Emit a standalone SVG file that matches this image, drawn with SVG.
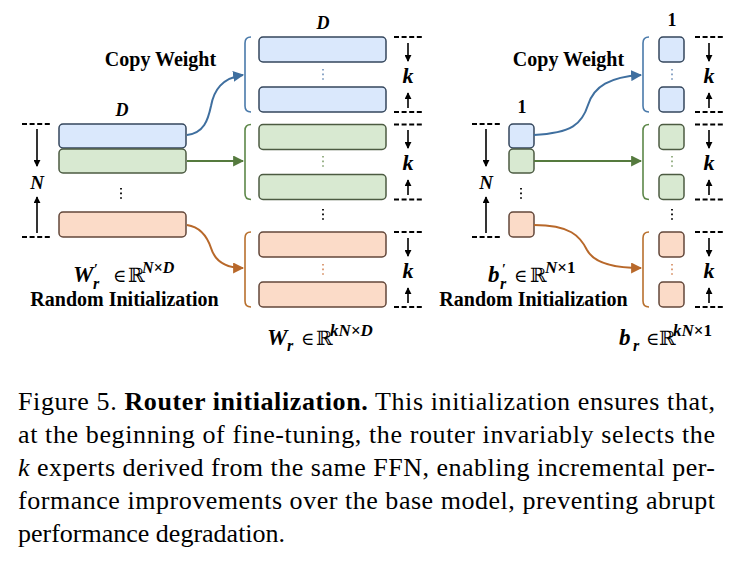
<svg xmlns="http://www.w3.org/2000/svg" width="744" height="563" viewBox="0 0 744 563">
<defs>
<style>
.bl{fill:#dae8fc;stroke:#34465c;stroke-width:1.5}
.gr{fill:#d8e9d1;stroke:#4c5b42;stroke-width:1.5}
.or{fill:#fbdbc8;stroke:#63473a;stroke-width:1.5}
.dash{stroke:#000;stroke-width:1.8;stroke-dasharray:5 2.6;fill:none}
.ar{stroke:#000;stroke-width:1.6;fill:none;marker-end:url(#ab)}
.dots{stroke-width:1.8;stroke-dasharray:1.6 3;fill:none}
.t{font-family:"Liberation Serif","DejaVu Serif",serif;fill:#000}
.b{font-weight:bold}
.bi{font-weight:bold;font-style:italic}
.cap{font-family:"Liberation Serif","DejaVu Serif",serif;font-size:26px;fill:#000}
</style>
<marker id="ab" viewBox="0 0 8 8" refX="7" refY="4" markerWidth="7" markerHeight="7" markerUnits="userSpaceOnUse" orient="auto"><path d="M0,0 L8,4 L0,8 z" fill="#000"/></marker>
<marker id="mb" viewBox="0 0 10 10" refX="9" refY="5" markerWidth="11" markerHeight="11" markerUnits="userSpaceOnUse" orient="auto"><path d="M0,0 L10,5 L0,10 z" fill="#3f6f9f"/></marker>
<marker id="mg" viewBox="0 0 10 10" refX="9" refY="5" markerWidth="11" markerHeight="11" markerUnits="userSpaceOnUse" orient="auto"><path d="M0,0 L10,5 L0,10 z" fill="#557a3e"/></marker>
<marker id="mo" viewBox="0 0 10 10" refX="9" refY="5" markerWidth="11" markerHeight="11" markerUnits="userSpaceOnUse" orient="auto"><path d="M0,0 L10,5 L0,10 z" fill="#b8682a"/></marker>
</defs>
<rect width="744" height="563" fill="#fff"/>

<!-- Left W' input -->
<g id="w-input">
<rect class="bl" x="59" y="124" width="127" height="24" rx="4"/>
<rect class="gr" x="59" y="149" width="127" height="24" rx="4"/>
<rect class="or" x="59" y="212" width="127" height="25" rx="4"/>
<line class="dots" x1="121" y1="188" x2="121" y2="199" stroke="#000"/>
<text class="t bi" x="122" y="116" font-size="18" text-anchor="middle">D</text>
<line class="dash" x1="22" y1="124" x2="51" y2="124"/>
<line class="dash" x1="22" y1="237" x2="51" y2="237"/>
<line class="ar" x1="37" y1="129" x2="37" y2="166"/>
<line class="ar" x1="37" y1="233" x2="37" y2="197"/>
<text class="t bi" x="37" y="189" font-size="19" text-anchor="middle">N</text>
</g>

<g id="w-input-label">
<text class="t" font-size="20"><tspan class="bi" x="73" y="282" font-size="23">W</tspan><tspan x="94" y="274" font-size="14" class="b">′</tspan><tspan class="bi" x="93" y="289" font-size="16">r</tspan><tspan x="113" y="282" font-size="18">∈</tspan><tspan x="128" y="282" font-family="DejaVu Serif">ℝ</tspan><tspan class="bi" x="142" y="273" font-size="16">N×D</tspan></text>
<text class="t b" x="124.5" y="306" font-size="20" text-anchor="middle">Random Initialization</text>
</g>

<text class="t b" x="160.5" y="66" font-size="20" text-anchor="middle">Copy Weight</text>

<!-- Right W groups -->
<g id="w-blue">
<path d="M251,37 Q245,37 245,43 V106 Q245,112 251,112" fill="none" stroke="#4a7aaa" stroke-width="1.6"/>
<rect class="bl" x="259" y="37" width="127" height="25" rx="4"/>
<rect class="bl" x="259" y="87" width="127" height="25" rx="4"/>
<line class="dots" x1="323" y1="69" x2="323" y2="81" stroke="#7f9cc0"/>
<text class="t bi" x="323" y="29" font-size="18" text-anchor="middle">D</text>
</g>
<g id="w-green">
<path d="M251,124.5 Q245,124.5 245,130.5 V193.5 Q245,199.5 251,199.5" fill="none" stroke="#5d8749" stroke-width="1.6"/>
<rect class="gr" x="259" y="124.5" width="127" height="25" rx="4"/>
<rect class="gr" x="259" y="174.5" width="127" height="25" rx="4"/>
<line class="dots" x1="323" y1="156" x2="323" y2="168" stroke="#8eaa7c"/>
</g>
<line class="dots" x1="323" y1="209" x2="323" y2="221" stroke="#000"/>
<g id="w-orange">
<path d="M251,232 Q245,232 245,238 V301 Q245,307 251,307" fill="none" stroke="#b8702e" stroke-width="1.6"/>
<rect class="or" x="259" y="232" width="127" height="25" rx="4"/>
<rect class="or" x="259" y="282" width="127" height="25" rx="4"/>
<line class="dots" x1="323" y1="264" x2="323" y2="276" stroke="#d9946c"/>
</g>

<g id="w-k">
<line class="dash" x1="394" y1="37" x2="422" y2="37"/>
<line class="dash" x1="394" y1="112" x2="422" y2="112"/>
<line class="ar" x1="408" y1="43" x2="408" y2="61"/>
<line class="ar" x1="408" y1="108" x2="408" y2="93"/>
<text class="t bi" x="408" y="83" font-size="22" text-anchor="middle">k</text>
<line class="dash" x1="394" y1="124.5" x2="422" y2="124.5"/>
<line class="dash" x1="394" y1="199.5" x2="422" y2="199.5"/>
<line class="ar" x1="408" y1="130" x2="408" y2="148"/>
<line class="ar" x1="408" y1="195" x2="408" y2="180"/>
<text class="t bi" x="408" y="170" font-size="22" text-anchor="middle">k</text>
<line class="dash" x1="394" y1="232" x2="422" y2="232"/>
<line class="dash" x1="394" y1="307" x2="422" y2="307"/>
<line class="ar" x1="408" y1="238" x2="408" y2="256"/>
<line class="ar" x1="408" y1="303" x2="408" y2="288"/>
<text class="t bi" x="408" y="278" font-size="22" text-anchor="middle">k</text>
</g>

<g id="w-output-label">
<text class="t" font-size="20"><tspan class="bi" x="267" y="345" font-size="23">W</tspan><tspan class="bi" x="287" y="351" font-size="16">r</tspan><tspan x="301" y="345" font-size="18">∈</tspan><tspan x="316" y="345" font-family="DejaVu Serif">ℝ</tspan><tspan class="bi" x="330" y="336" font-size="17">kN×D</tspan></text>
</g>

<!-- Left b' input -->
<g id="b-input">
<rect class="bl" x="509" y="124" width="25" height="24" rx="4"/>
<rect class="gr" x="509" y="149" width="25" height="24" rx="4"/>
<rect class="or" x="509" y="212" width="25" height="25" rx="4"/>
<line class="dots" x1="521" y1="188" x2="521" y2="199" stroke="#000"/>
<text class="t b" x="522" y="113" font-size="18" text-anchor="middle">1</text>
<line class="dash" x1="472" y1="124" x2="500" y2="124"/>
<line class="dash" x1="472" y1="237" x2="500" y2="237"/>
<line class="ar" x1="486" y1="129" x2="486" y2="166"/>
<line class="ar" x1="486" y1="233" x2="486" y2="197"/>
<text class="t bi" x="486" y="189" font-size="19" text-anchor="middle">N</text>
</g>

<g id="b-input-label">
<text class="t" font-size="20"><tspan class="bi" x="488" y="282" font-size="23">b</tspan><tspan x="502" y="274" font-size="14" class="b">′</tspan><tspan class="bi" x="500" y="289" font-size="16">r</tspan><tspan x="514" y="282" font-size="18">∈</tspan><tspan x="530" y="282" font-family="DejaVu Serif">ℝ</tspan><tspan class="b" x="545" y="273" font-size="17"><tspan font-style="italic">N</tspan>×1</tspan></text>
<text class="t b" x="533.5" y="306" font-size="20" text-anchor="middle">Random Initialization</text>
</g>

<text class="t b" x="568.5" y="66" font-size="20" text-anchor="middle">Copy Weight</text>

<!-- Right b groups -->
<g id="b-blue">
<path d="M649,37 Q643,37 643,43 V106 Q643,112 649,112" fill="none" stroke="#4a7aaa" stroke-width="1.6"/>
<rect class="bl" x="659" y="37" width="25" height="25" rx="4"/>
<rect class="bl" x="659" y="87" width="25" height="25" rx="4"/>
<line class="dots" x1="672" y1="69" x2="672" y2="81" stroke="#7f9cc0"/>
<text class="t b" x="672" y="26" font-size="18" text-anchor="middle">1</text>
</g>
<g id="b-green">
<path d="M649,124.5 Q643,124.5 643,130.5 V193.5 Q643,199.5 649,199.5" fill="none" stroke="#5d8749" stroke-width="1.6"/>
<rect class="gr" x="659" y="124.5" width="25" height="25" rx="4"/>
<rect class="gr" x="659" y="174.5" width="25" height="25" rx="4"/>
<line class="dots" x1="672" y1="156" x2="672" y2="168" stroke="#8eaa7c"/>
</g>
<line class="dots" x1="672" y1="209" x2="672" y2="221" stroke="#000"/>
<g id="b-orange">
<path d="M649,232 Q643,232 643,238 V301 Q643,307 649,307" fill="none" stroke="#b8702e" stroke-width="1.6"/>
<rect class="or" x="659" y="232" width="25" height="25" rx="4"/>
<rect class="or" x="659" y="282" width="25" height="25" rx="4"/>
<line class="dots" x1="672" y1="264" x2="672" y2="276" stroke="#d9946c"/>
</g>

<g id="b-k">
<line class="dash" x1="695" y1="37" x2="723" y2="37"/>
<line class="dash" x1="695" y1="112" x2="723" y2="112"/>
<line class="ar" x1="709" y1="43" x2="709" y2="61"/>
<line class="ar" x1="709" y1="108" x2="709" y2="93"/>
<text class="t bi" x="709" y="83" font-size="22" text-anchor="middle">k</text>
<line class="dash" x1="695" y1="124.5" x2="723" y2="124.5"/>
<line class="dash" x1="695" y1="199.5" x2="723" y2="199.5"/>
<line class="ar" x1="709" y1="130" x2="709" y2="148"/>
<line class="ar" x1="709" y1="195" x2="709" y2="180"/>
<text class="t bi" x="709" y="170" font-size="22" text-anchor="middle">k</text>
<line class="dash" x1="695" y1="232" x2="723" y2="232"/>
<line class="dash" x1="695" y1="307" x2="723" y2="307"/>
<line class="ar" x1="709" y1="238" x2="709" y2="256"/>
<line class="ar" x1="709" y1="303" x2="709" y2="288"/>
<text class="t bi" x="709" y="278" font-size="22" text-anchor="middle">k</text>
</g>

<g id="b-output-label">
<text class="t" font-size="20"><tspan class="bi" x="619" y="345" font-size="23">b</tspan><tspan class="bi" x="633" y="351" font-size="16">r</tspan><tspan x="646" y="345" font-size="18">∈</tspan><tspan x="659" y="345" font-family="DejaVu Serif">ℝ</tspan><tspan class="b" x="673" y="336" font-size="17"><tspan font-style="italic">kN</tspan>×1</tspan></text>
</g>

<!-- connectors -->
<g id="connectors" fill="none" stroke-width="2">
<path d="M187,135 C204,133 208,120 211,106 C214,90 222,78 243,75" stroke="#3f6f9f" marker-end="url(#mb)"/>
<path d="M187,161 H243" stroke="#557a3e" marker-end="url(#mg)"/>
<path d="M187,225 C200,227 207,236 211,248 C215,261 226,268 243,268" stroke="#b8682a" marker-end="url(#mo)"/>
<path d="M534,135 C572,133 582,124 588,105 C594,86 610,77 641,75" stroke="#3f6f9f" marker-end="url(#mb)"/>
<path d="M534,161 H641" stroke="#557a3e" marker-end="url(#mg)"/>
<path d="M534,225 C570,225 580,236 587,250 C594,263 614,268 641,268" stroke="#b8682a" marker-end="url(#mo)"/>
</g>

<!-- caption -->
<g id="caption">
<text class="cap" x="18" y="410" textLength="697" lengthAdjust="spacing">Figure 5.  <tspan font-weight="bold">Router initialization.</tspan>  This initialization ensures that,</text>
<text class="cap" x="18" y="443" textLength="697" lengthAdjust="spacing">at the beginning of fine-tuning, the router invariably selects the</text>
<text class="cap" x="18" y="476" textLength="697" lengthAdjust="spacing"><tspan font-style="italic">k</tspan> experts derived from the same FFN, enabling incremental per-</text>
<text class="cap" x="18" y="509" textLength="697" lengthAdjust="spacing">formance improvements over the base model, preventing abrupt</text>
<text class="cap" x="18" y="542">performance degradation.</text>
</g>
</svg>
